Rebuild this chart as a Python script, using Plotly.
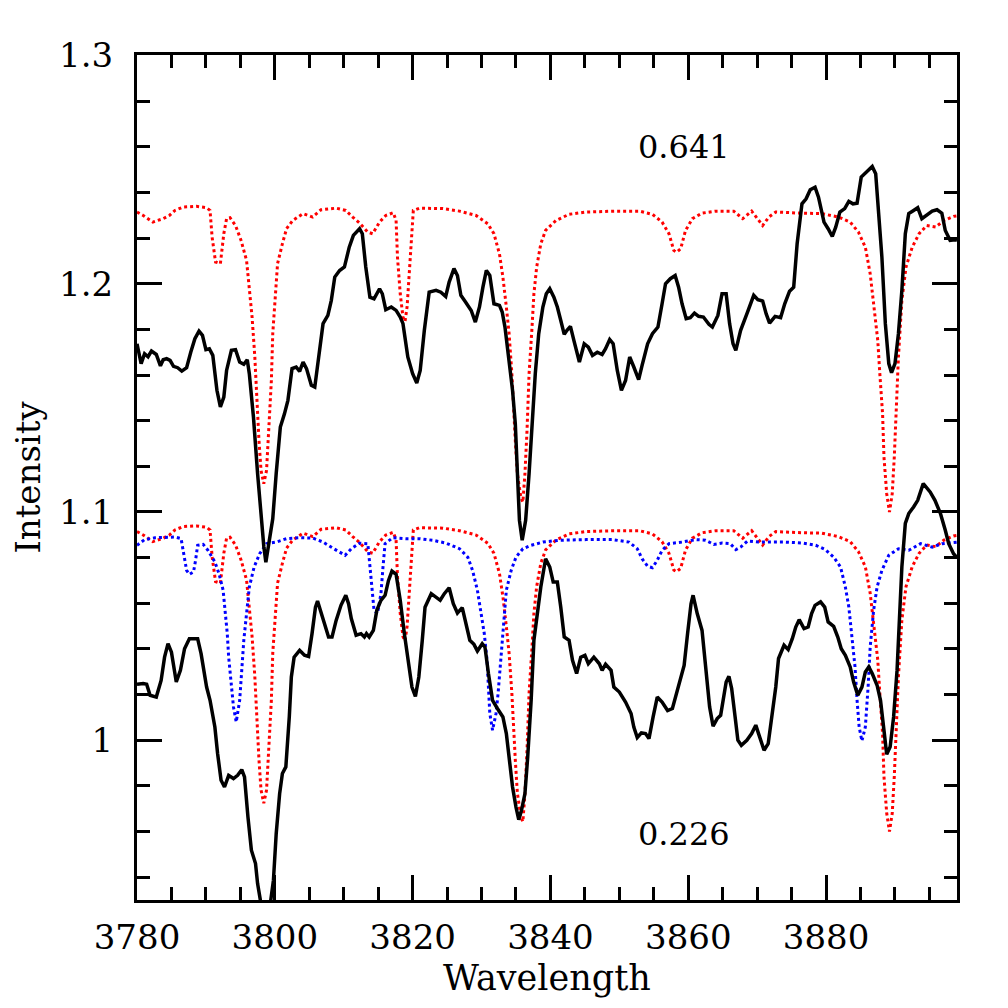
import plotly.graph_objects as go

# ---------------- data ----------------
top_obs_x = [3780.0, 3780.6, 3781.1, 3781.6, 3782.1, 3782.8, 3783.4, 3783.8, 3784.3, 3784.8,
             3785.3, 3785.9, 3786.5, 3787.2, 3787.8, 3788.4, 3789.0, 3789.5, 3790.0, 3790.5,
             3791.0, 3791.6, 3792.1, 3792.6, 3793.0, 3793.7, 3794.3, 3794.9, 3795.5, 3796.0,
             3796.3, 3796.9, 3797.5, 3798.0, 3798.4, 3798.7, 3799.1, 3799.7, 3800.2, 3800.8,
             3801.4, 3801.9, 3802.5, 3803.1, 3803.6, 3804.1, 3804.6, 3805.3, 3805.8, 3806.2,
             3807.0, 3807.7, 3808.2, 3808.7, 3809.4, 3810.1, 3810.8, 3811.4, 3812.3, 3812.7,
             3813.2, 3813.8, 3814.4, 3815.2, 3815.6, 3816.1, 3816.9, 3817.6, 3818.2, 3818.6,
             3819.3, 3820.0, 3820.6, 3821.1, 3821.7, 3822.4, 3823.4, 3824.1, 3824.8, 3825.3,
             3826.0, 3826.5, 3827.0, 3827.7, 3828.5, 3829.1, 3829.7, 3830.2, 3830.7, 3831.2,
             3831.8, 3832.6, 3833.0, 3833.4, 3834.0, 3834.5, 3834.9, 3835.2, 3835.5, 3835.9,
             3836.4, 3836.9, 3837.3, 3837.8, 3838.3, 3838.9, 3839.4, 3839.9, 3840.5, 3841.0,
             3841.5, 3842.0, 3842.4, 3842.9, 3843.4, 3844.2, 3844.9, 3845.5, 3846.1, 3846.8,
             3847.5, 3848.0, 3848.6, 3849.1, 3849.7, 3850.3, 3850.9, 3851.5, 3852.1, 3852.8,
             3853.3, 3854.1, 3854.8, 3855.6, 3856.2, 3856.7, 3857.4, 3858.1, 3858.6, 3859.1,
             3859.7, 3860.3, 3860.9, 3861.5, 3862.2, 3863.0, 3863.5, 3864.3, 3864.9, 3865.5,
             3866.0, 3866.5, 3866.9, 3867.6, 3868.6, 3869.0, 3869.5, 3870.1, 3870.8, 3871.3,
             3871.8, 3872.6, 3873.4, 3874.0, 3874.7, 3875.3, 3875.8, 3876.5, 3877.1, 3877.7,
             3878.4, 3878.9, 3879.7, 3880.3, 3880.9, 3881.4, 3882.0, 3882.7, 3883.3, 3883.9,
             3884.5, 3885.1, 3885.9, 3886.7, 3887.2, 3887.6, 3888.1, 3888.6, 3889.1, 3889.5,
             3890.0, 3890.5, 3891.0, 3891.5, 3892.0, 3892.7, 3893.3, 3893.9, 3894.6, 3895.4,
             3896.1, 3896.8, 3897.3, 3898.0, 3898.7, 3899.0]
top_obs_y = [1.1737, 1.1650, 1.1693, 1.1680, 1.1705, 1.1690, 1.1640, 1.1667, 1.1672, 1.1664,
             1.1638, 1.1632, 1.1617, 1.1632, 1.1700, 1.1759, 1.1792, 1.1774, 1.1711, 1.1715,
             1.1686, 1.1533, 1.1460, 1.1503, 1.1620, 1.1708, 1.1711, 1.1657, 1.1647, 1.1667,
             1.1606, 1.1416, 1.1168, 1.0963, 1.0850, 1.0780, 1.0860, 1.0970, 1.1168, 1.1372,
             1.1430, 1.1489, 1.1628, 1.1635, 1.1616, 1.1657, 1.1628, 1.1555, 1.1547, 1.1635,
             1.1825, 1.1861, 1.1927, 1.2029, 1.2058, 1.2073, 1.2160, 1.2212, 1.2241, 1.2219,
             1.2073, 1.1941, 1.1934, 1.1978, 1.1956, 1.1886, 1.1898, 1.1883, 1.1854, 1.1825,
             1.1679, 1.1606, 1.1565, 1.1620, 1.1796, 1.1963, 1.1971, 1.1963, 1.1944, 1.2007,
             1.2066, 1.2036, 1.1949, 1.1919, 1.1883, 1.1832, 1.1898, 1.1985, 1.2058, 1.2036,
             1.1912, 1.1905, 1.1876, 1.1810, 1.1664, 1.1533, 1.1387, 1.1168, 1.0963, 1.0876,
             1.0963, 1.1168, 1.1387, 1.1606, 1.1781, 1.1898, 1.1956, 1.1978, 1.1941, 1.1898,
             1.1839, 1.1778, 1.1796, 1.1813, 1.1752, 1.1657, 1.1737, 1.1722, 1.1686, 1.1700,
             1.1690, 1.1715, 1.1755, 1.1737, 1.1620, 1.1533, 1.1576, 1.1679, 1.1635, 1.1580,
             1.1642, 1.1737, 1.1781, 1.1810, 1.1912, 1.2000, 1.2022, 1.2036, 1.1985, 1.1912,
             1.1847, 1.1851, 1.1871, 1.1857, 1.1854, 1.1822, 1.1810, 1.1861, 1.1956, 1.1956,
             1.1825, 1.1737, 1.1708, 1.1796, 1.1876, 1.1912, 1.1949, 1.1930, 1.1924, 1.1869,
             1.1827, 1.1857, 1.1851, 1.1912, 1.1967, 1.1985, 1.2175, 1.2350, 1.2372, 1.2412,
             1.2423, 1.2379, 1.2270, 1.2241, 1.2207, 1.2248, 1.2314, 1.2329, 1.2361, 1.2350,
             1.2353, 1.2467, 1.2489, 1.2514, 1.2482, 1.2336, 1.2117, 1.1825, 1.1650, 1.1610,
             1.1650, 1.1781, 1.1971, 1.2219, 1.2307, 1.2321, 1.2333, 1.2285, 1.2299, 1.2318,
             1.2324, 1.2309, 1.2233, 1.2190, 1.2193, 1.2190]

bot_obs_x = [3780.0, 3780.9, 3781.4, 3781.9, 3782.8, 3783.5, 3784.0, 3784.5, 3785.0, 3785.7,
             3786.3, 3786.9, 3787.6, 3788.4, 3788.8, 3789.3, 3790.1, 3790.6, 3791.3, 3791.7,
             3792.2, 3792.7, 3793.3, 3794.0, 3794.6, 3795.2, 3795.6, 3796.1, 3796.6, 3797.2,
             3797.5, 3797.9, 3798.5, 3799.2, 3799.8, 3800.2, 3800.7, 3801.1, 3801.6, 3802.1,
             3802.4, 3802.8, 3803.6, 3804.3, 3804.9, 3805.4, 3805.9, 3806.2, 3806.7, 3807.2,
             3807.8, 3808.3, 3808.9, 3809.6, 3810.3, 3810.7, 3811.1, 3811.8, 3812.5, 3813.0,
             3813.3, 3813.7, 3814.3, 3814.8, 3815.4, 3816.0, 3816.5, 3817.0, 3817.6, 3818.2,
             3818.8, 3819.3, 3819.9, 3820.4, 3820.9, 3821.4, 3821.8, 3822.7, 3823.4, 3824.0,
             3824.6, 3825.3, 3825.9, 3826.5, 3827.2, 3827.7, 3828.3, 3828.9, 3829.4, 3830.1,
             3830.5, 3831.0, 3831.6, 3832.3, 3833.1, 3833.6, 3834.0, 3834.5, 3835.0, 3835.4,
             3835.8, 3836.3, 3836.7, 3837.2, 3837.6, 3838.1, 3838.6, 3839.3, 3839.9, 3840.4,
             3841.0, 3841.5, 3842.0, 3842.7, 3843.2, 3843.8, 3844.4, 3845.0, 3845.5, 3846.3,
             3847.1, 3847.5, 3848.0, 3848.8, 3849.2, 3850.0, 3850.9, 3851.7, 3852.1, 3852.6,
             3853.2, 3853.8, 3854.3, 3854.9, 3855.5, 3856.2, 3857.0, 3857.7, 3858.4, 3859.4,
             3859.9, 3860.4, 3860.7, 3861.3, 3862.0, 3862.5, 3863.1, 3863.6, 3864.2, 3864.7,
             3865.2, 3865.5, 3865.9, 3866.3, 3866.8, 3867.2, 3867.7, 3868.5, 3869.2, 3869.8,
             3870.2, 3871.0, 3871.6, 3872.2, 3872.7, 3873.1, 3873.9, 3874.5, 3875.1, 3875.6,
             3876.1, 3876.8, 3877.4, 3877.9, 3878.4, 3879.2, 3879.8, 3880.3, 3881.1, 3881.7,
             3882.2, 3882.8, 3883.5, 3884.0, 3884.6, 3885.2, 3885.7, 3886.2, 3886.7, 3887.4,
             3887.9, 3888.4, 3888.8, 3889.3, 3889.8, 3890.3, 3890.6, 3891.0, 3891.5, 3892.0,
             3892.7, 3893.3, 3894.1, 3895.1, 3895.8, 3896.6, 3897.3, 3897.8, 3898.5, 3899.0]
bot_obs_y = [1.0245, 1.0248, 1.0245, 1.0197, 1.0189, 1.0262, 1.0364, 1.0423, 1.0386, 1.0255,
             1.0306, 1.0401, 1.0445, 1.0445, 1.0445, 1.0379, 1.0233, 1.0175, 1.0058, 0.9941,
             0.9825, 0.9795, 0.9846, 0.9832, 0.9846, 0.9871, 0.9839, 0.9664, 0.9518, 0.9460,
             0.9372, 0.9300, 0.9050, 0.9250, 0.9387, 0.9590, 0.9766, 0.9854, 0.9883, 1.0102,
             1.0277, 1.0364, 1.0394, 1.0372, 1.0367, 1.0467, 1.0583, 1.0610, 1.0555, 1.0511,
             1.0452, 1.0452, 1.0525, 1.0591, 1.0635, 1.0598, 1.0533, 1.0460, 1.0467, 1.0452,
             1.0467, 1.0452, 1.0481, 1.0569, 1.0613, 1.0635, 1.0700, 1.0741, 1.0727, 1.0613,
             1.0467, 1.0350, 1.0233, 1.0192, 1.0277, 1.0438, 1.0583, 1.0642, 1.0627, 1.0613,
             1.0642, 1.0668, 1.0598, 1.0557, 1.0581, 1.0511, 1.0438, 1.0420, 1.0391, 1.0423,
             1.0408, 1.0292, 1.0175, 1.0139, 1.0102, 1.0029, 0.9912, 0.9795, 0.9707, 0.9652,
             0.9693, 0.9766, 0.9927, 1.0175, 1.0438, 1.0569, 1.0671, 1.0795, 1.0759, 1.0693,
             1.0693, 1.0583, 1.0452, 1.0438, 1.0350, 1.0292, 1.0364, 1.0372, 1.0335, 1.0364,
             1.0335, 1.0306, 1.0333, 1.0306, 1.0233, 1.0211, 1.0167, 1.0117, 1.0058, 1.0012,
             1.0032, 1.0029, 1.0007, 1.0102, 1.0189, 1.0167, 1.0130, 1.0139, 1.0219, 1.0328,
             1.0467, 1.0598, 1.0635, 1.0555, 1.0481, 1.0321, 1.0146, 1.0062, 1.0095, 1.0109,
             1.0189, 1.0255, 1.0280, 1.0226, 1.0102, 1.0000, 0.9978, 1.0000, 1.0029, 1.0066,
             1.0029, 0.9956, 0.9985, 1.0117, 1.0233, 1.0358, 1.0416, 1.0397, 1.0445, 1.0496,
             1.0528, 1.0489, 1.0496, 1.0555, 1.0591, 1.0606, 1.0583, 1.0518, 1.0499, 1.0452,
             1.0401, 1.0372, 1.0321, 1.0255, 1.0197, 1.0233, 1.0299, 1.0321, 1.0292, 1.0241,
             1.0175, 1.0044, 0.9938, 0.9971, 1.0102, 1.0306, 1.0496, 1.0759, 1.0950, 1.0993,
             1.1022, 1.1051, 1.1124, 1.1088, 1.1051, 1.0993, 1.0920, 1.0861, 1.0817, 1.0800]

model_red_x = [3780.0, 3780.9, 3782.3, 3783.8, 3784.7, 3785.5, 3786.7, 3788.6, 3790.1, 3790.6,
               3790.9, 3791.4, 3792.1, 3792.6, 3793.0, 3793.5, 3794.3, 3795.1, 3795.9, 3796.3,
               3796.7, 3797.1, 3797.4, 3797.7, 3798.0, 3798.4, 3798.8, 3799.1, 3799.5, 3799.7,
               3800.1, 3800.4, 3801.1, 3801.7, 3802.6, 3804.1, 3805.5, 3806.7, 3808.9, 3810.3,
               3811.3, 3812.3, 3813.5, 3814.2, 3815.2, 3816.1, 3817.2, 3817.6, 3817.8, 3818.2,
               3818.6, 3818.9, 3819.2, 3819.5, 3819.8, 3820.1, 3821.0, 3824.4, 3826.8, 3829.2,
               3830.9, 3831.8, 3832.6, 3833.1, 3833.6, 3834.0, 3834.4, 3834.6, 3834.9, 3835.2,
               3835.7, 3836.0, 3836.3, 3836.6, 3836.9, 3837.3, 3837.6, 3838.0, 3838.6, 3839.3,
               3840.8, 3842.7, 3845.1, 3849.5, 3852.9, 3854.8, 3856.2, 3857.2, 3857.9, 3858.3,
               3858.9, 3859.6, 3860.6, 3862.0, 3864.0, 3866.6, 3867.3, 3867.9, 3869.2, 3870.2,
               3870.8, 3871.7, 3872.7, 3876.5, 3879.4, 3881.8, 3883.5, 3884.7, 3885.7, 3886.4,
               3887.0, 3887.5, 3887.8, 3888.2, 3888.4, 3888.8, 3889.2, 3889.6, 3889.9, 3890.2,
               3890.5, 3891.0, 3891.6, 3892.5, 3893.5, 3894.6, 3895.9, 3897.1, 3898.5, 3899.0]
model_red_y = [1.2314, 1.2299, 1.2270, 1.2285, 1.2299, 1.2321, 1.2336, 1.2339, 1.2333, 1.2321,
               1.2204, 1.2095, 1.2088, 1.2219, 1.2285, 1.2289, 1.2255, 1.2190, 1.2102, 1.1971,
               1.1854, 1.1679, 1.1489, 1.1314, 1.1182, 1.1124, 1.1182, 1.1343, 1.1576, 1.1781,
               1.1956, 1.2088, 1.2175, 1.2241, 1.2277, 1.2307, 1.2292, 1.2324, 1.2331, 1.2321,
               1.2292, 1.2266, 1.2226, 1.2219, 1.2270, 1.2299, 1.2311, 1.2277, 1.2117, 1.1956,
               1.1854, 1.1835, 1.1900, 1.2044, 1.2219, 1.2321, 1.2331, 1.2329, 1.2318, 1.2299,
               1.2263, 1.2219, 1.2131, 1.2029, 1.1898, 1.1781, 1.1606, 1.1460, 1.1314, 1.1168,
               1.1065, 1.1043, 1.1168, 1.1357, 1.1606, 1.1796, 1.1956, 1.2073, 1.2175, 1.2234,
               1.2277, 1.2304, 1.2314, 1.2318, 1.2318, 1.2304, 1.2270, 1.2219, 1.2146, 1.2138,
               1.2153, 1.2233, 1.2285, 1.2309, 1.2318, 1.2318, 1.2299, 1.2285, 1.2318, 1.2277,
               1.2255, 1.2292, 1.2314, 1.2309, 1.2307, 1.2292, 1.2270, 1.2226, 1.2160, 1.2044,
               1.1898, 1.1752, 1.1606, 1.1430, 1.1241, 1.1080, 1.1000, 1.1080, 1.1241, 1.1460,
               1.1679, 1.1927, 1.2073, 1.2160, 1.2219, 1.2255, 1.2248, 1.2277, 1.2295, 1.2297]
red_offset_lower = -0.14   # the same red model, shifted down for the lower spectrum

model_blue_x = [3780.0, 3781.1, 3782.6, 3784.3, 3785.5, 3786.4, 3786.8, 3787.2, 3787.6, 3788.2,
                3788.5, 3788.8, 3789.6, 3790.3, 3791.3, 3791.9, 3792.5, 3792.8, 3793.1, 3793.3,
                3793.7, 3794.0, 3794.4, 3794.9, 3795.2, 3795.5, 3795.9, 3796.3, 3797.0, 3797.8,
                3798.8, 3800.2, 3801.7, 3803.6, 3805.5, 3807.0, 3808.4, 3809.4, 3810.2, 3811.1,
                3812.3, 3813.5, 3813.8, 3814.1, 3814.4, 3814.9, 3815.4, 3815.7, 3816.0, 3817.1,
                3819.0, 3821.0, 3822.9, 3824.8, 3826.8, 3828.0, 3828.7, 3829.4, 3829.9, 3830.4,
                3830.8, 3831.0, 3831.2, 3831.6, 3832.1, 3832.4, 3832.7, 3833.0, 3833.3, 3833.6,
                3834.3, 3835.0, 3836.0, 3837.2, 3838.9, 3841.3, 3845.2, 3849.0, 3851.4, 3852.6,
                3853.3, 3854.1, 3854.8, 3855.5, 3856.2, 3857.2, 3859.1, 3861.1, 3862.5, 3863.7,
                3864.9, 3866.1, 3866.9, 3867.6, 3868.6, 3870.2, 3874.1, 3876.5, 3878.5, 3879.9,
                3881.1, 3882.1, 3882.8, 3883.3, 3883.7, 3884.2, 3884.5, 3884.8, 3885.2, 3885.7,
                3886.1, 3886.4, 3886.9, 3887.4, 3888.1, 3889.1, 3890.5, 3892.0, 3893.7, 3895.4,
                3896.8, 3898.5, 3899.0]
model_blue_y = [1.0854, 1.0879, 1.0887, 1.0887, 1.0890, 1.0883, 1.0817, 1.0744, 1.0727, 1.0737,
                1.0788, 1.0854, 1.0858, 1.0832, 1.0781, 1.0730, 1.0657, 1.0569, 1.0467, 1.0365,
                1.0233, 1.0146, 1.0080, 1.0175, 1.0306, 1.0438, 1.0555, 1.0671, 1.0759, 1.0817,
                1.0861, 1.0868, 1.0883, 1.0887, 1.0886, 1.0868, 1.0842, 1.0824, 1.0810, 1.0839,
                1.0863, 1.0861, 1.0759, 1.0657, 1.0569, 1.0555, 1.0642, 1.0759, 1.0861, 1.0887,
                1.0883, 1.0883, 1.0876, 1.0864, 1.0839, 1.0802, 1.0744, 1.0657, 1.0569, 1.0467,
                1.0350, 1.0219, 1.0117, 1.0044, 1.0117, 1.0204, 1.0321, 1.0438, 1.0569, 1.0657,
                1.0744, 1.0802, 1.0839, 1.0854, 1.0868, 1.0876, 1.0879, 1.0879, 1.0868, 1.0839,
                1.0795, 1.0762, 1.0756, 1.0788, 1.0832, 1.0861, 1.0868, 1.0879, 1.0876, 1.0858,
                1.0864, 1.0861, 1.0835, 1.0846, 1.0873, 1.0868, 1.0868, 1.0864, 1.0854, 1.0835,
                1.0802, 1.0759, 1.0671, 1.0584, 1.0467, 1.0321, 1.0175, 1.0058, 0.9997, 1.0058,
                1.0233, 1.0408, 1.0569, 1.0671, 1.0744, 1.0810, 1.0839, 1.0832, 1.0861, 1.0846,
                1.0861, 1.0868, 1.0868]

phase_labels = ["0.641", "0.226"]
phase_label_x = [3859.4, 3859.4]
phase_label_y = [1.260, 0.959]

x_tick_vals = [3780, 3800, 3820, 3840, 3860, 3880]
x_tick_text = ["3780", "3800", "3820", "3840", "3860", "3880"]
y_tick_vals = [1.0, 1.1, 1.2, 1.3]
y_tick_text = ["1", "1.1", "1.2", "1.3"]

# ---------------- figure ----------------
FONT = "DejaVu Serif"
fig = go.Figure()

red_lower_y = [v + red_offset_lower for v in model_red_y]

fig.add_trace(go.Scatter(x=model_red_x, y=model_red_y, mode="lines",
                         line=dict(color="#ff0000", width=3, dash="dot")))
fig.add_trace(go.Scatter(x=model_red_x, y=red_lower_y, mode="lines",
                         line=dict(color="#ff0000", width=3, dash="dot")))
fig.add_trace(go.Scatter(x=model_blue_x, y=model_blue_y, mode="lines",
                         line=dict(color="#0000ff", width=3, dash="dot")))
fig.add_trace(go.Scatter(x=top_obs_x, y=top_obs_y, mode="lines",
                         line=dict(color="#000000", width=3.5)))
fig.add_trace(go.Scatter(x=bot_obs_x, y=bot_obs_y, mode="lines",
                         line=dict(color="#000000", width=3.5)))

for txt, lx, ly in zip(phase_labels, phase_label_x, phase_label_y):
    fig.add_annotation(x=lx, y=ly, xref="x", yref="y", text=txt, showarrow=False,
                       font=dict(family=FONT, size=32, color="#000000"))

fig.add_annotation(x=0.5, y=-0.092, xref="paper", yref="paper", text="Wavelength",
                   showarrow=False, xanchor="center", yanchor="middle",
                   font=dict(family=FONT, size=35, color="#000000"))
fig.add_annotation(x=-0.134, y=0.5, xref="paper", yref="paper", text="Intensity",
                   showarrow=False, xanchor="center", yanchor="middle", textangle=-90,
                   borderpad=0,
                   font=dict(family=FONT, size=34, color="#000000"))

axis_common = dict(showline=True, linecolor="#000000", linewidth=3, mirror="allticks",
                   ticks="inside", tickcolor="#000000", tickwidth=3, ticklen=25,
                   showgrid=False, zeroline=False,
                   tickfont=dict(family=FONT, size=34, color="#000000"))

fig.update_xaxes(range=[3780, 3899], tickvals=x_tick_vals, ticktext=x_tick_text,
                 ticklabelstandoff=5,
                 minor=dict(dtick=5, tick0=3780, ticks="inside", ticklen=13,
                            tickwidth=3, tickcolor="#000000", showgrid=False),
                 **axis_common)
fig.update_yaxes(range=[0.93, 1.3002], tickvals=y_tick_vals, ticktext=y_tick_text,
                 ticklabelstandoff=14,
                 minor=dict(dtick=0.02, tick0=0.9, ticks="inside", ticklen=13,
                            tickwidth=3, tickcolor="#000000", showgrid=False),
                 **axis_common)

# the page body adds an 8px margin, so the plot box is shifted accordingly
fig.update_layout(width=1008, height=1008, showlegend=False,
                  paper_bgcolor="#ffffff", plot_bgcolor="#ffffff",
                  margin=dict(l=129, r=59, t=47, b=116, pad=0))

fig.write_html("out.html")
